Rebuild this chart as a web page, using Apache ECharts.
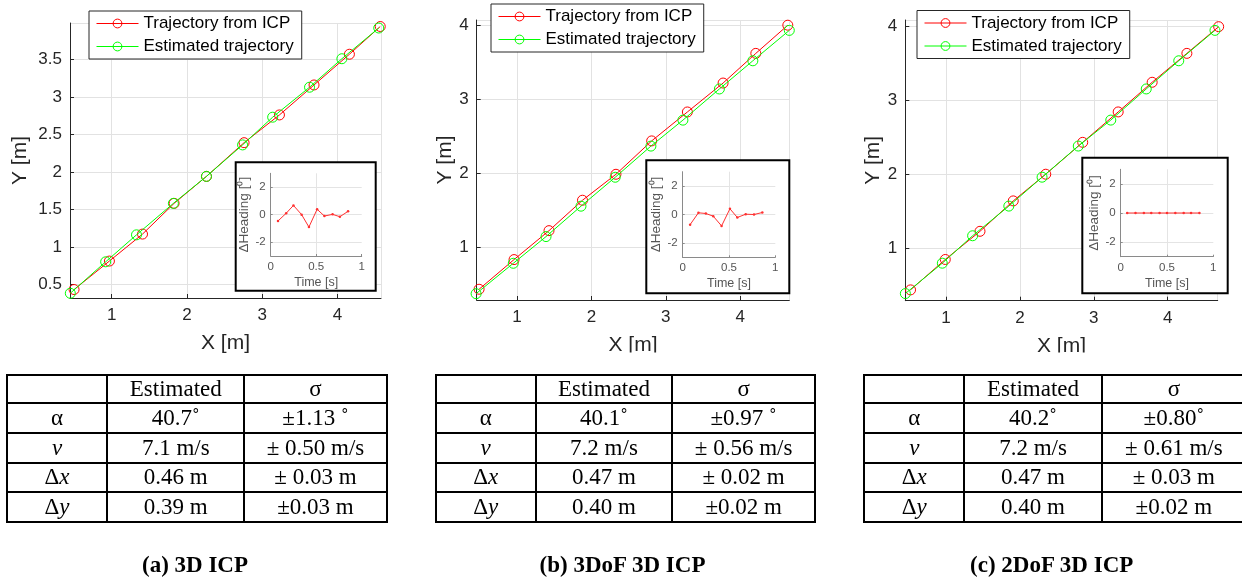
<!DOCTYPE html>
<html><head><meta charset="utf-8">
<script src="https://cdn.jsdelivr.net/npm/echarts@6/dist/echarts.min.js"></script>
<style>
html,body{margin:0;padding:0;background:#fff;width:1242px;height:581px;overflow:hidden;}
#chart{position:absolute;left:0;top:0;width:1242px;height:581px;}
.cell{position:absolute;box-sizing:border-box;border:2px solid #000;display:flex;align-items:center;justify-content:center;font-family:"Liberation Serif","Times New Roman",serif;font-size:23px;color:#000;white-space:pre;background:transparent;}
.cap{position:absolute;font-family:"Liberation Serif","Times New Roman",serif;font-weight:bold;font-size:23px;transform:translate(-50%,-50%);white-space:nowrap;color:#000;}
</style></head><body>
<div id="chart"></div>
<div id="tables"></div>
<script>
// ---------- DATA ----------
const seriesNames = ['Trajectory from ICP', 'Estimated trajectory'];
// panel (a) 3D ICP
const icpXa = [0.50, 0.97, 1.41, 1.83, 2.26, 2.76, 3.23, 3.69, 4.16, 4.57];
const icpYa = [0.43, 0.81, 1.17, 1.58, 1.94, 2.39, 2.76, 3.16, 3.57, 3.94];
const estXa = [0.45, 0.92, 1.33, 1.82, 2.26, 2.74, 3.14, 3.63, 4.06, 4.55];
const estYa = [0.38, 0.80, 1.16, 1.58, 1.94, 2.36, 2.73, 3.13, 3.51, 3.92];
// panel (b) 3DoF 3D ICP
const icpXb = [0.49, 0.96, 1.43, 1.88, 2.33, 2.81, 3.29, 3.77, 4.21, 4.64];
const icpYb = [0.44, 0.84, 1.23, 1.64, 1.99, 2.44, 2.83, 3.22, 3.62, 4.00];
const estXb = [0.45, 0.95, 1.39, 1.86, 2.32, 2.80, 3.23, 3.72, 4.17, 4.66];
const estYb = [0.38, 0.79, 1.15, 1.56, 1.95, 2.37, 2.72, 3.14, 3.52, 3.93];
// panel (c) 2DoF 3D ICP
const icpXc = [0.52, 0.99, 1.46, 1.91, 2.35, 2.85, 3.33, 3.79, 4.26, 4.69];
const icpYc = [0.44, 0.85, 1.23, 1.64, 2.00, 2.43, 2.84, 3.24, 3.63, 3.99];
const estXc = [0.45, 0.95, 1.36, 1.85, 2.30, 2.79, 3.23, 3.71, 4.15, 4.64];
const estYc = [0.39, 0.80, 1.17, 1.57, 1.96, 2.38, 2.73, 3.15, 3.53, 3.94];
// inset: heading error vs time
const timeA = [0.08, 0.17, 0.25, 0.34, 0.42, 0.51, 0.59, 0.68, 0.76, 0.85];
const headA = [-0.46, 0.10, 0.67, 0.00, -0.90, 0.39, -0.10, 0.02, -0.15, 0.24];
const timeB = [0.08, 0.17, 0.25, 0.33, 0.42, 0.51, 0.59, 0.68, 0.77, 0.86];
const headB = [-0.71, 0.12, 0.07, -0.12, -0.80, 0.40, -0.21, 0.02, 0.00, 0.14];
const timeC = [0.07, 0.16, 0.25, 0.33, 0.42, 0.50, 0.59, 0.68, 0.76, 0.85];
const headC = [0, 0, 0, 0, 0, 0, 0, 0, 0, 0];
// tables
const rowLabels = ['α', '<i>v</i>', 'Δ<i>x</i>', 'Δ<i>y</i>'];
const tableHeader = ['', 'Estimated', 'σ'];
const estA = ['40.7˚', '7.1 m/s', '0.46 m', '0.39 m'];
const sigA = ['±1.13 ˚', '± 0.50 m/s', '± 0.03 m', '±0.03 m'];
const estB = ['40.1˚', '7.2 m/s', '0.47 m', '0.40 m'];
const sigB = ['±0.97 ˚', '± 0.56 m/s', '± 0.02 m', '±0.02 m'];
const estC = ['40.2˚', '7.2 m/s', '0.47 m', '0.40 m'];
const sigC = ['±0.80˚', '± 0.61 m/s', '± 0.03 m', '±0.02 m'];
const captions = ['(a) 3D ICP', '(b) 3DoF 3D ICP', '(c) 2DoF 3D ICP'];

// ---------- LAYOUT ----------
const zip = (a, b) => a.map((v, i) => [v, b[i]]);
const panels = [
  { icp: zip(icpXa, icpYa), est: zip(estXa, estYa), head: zip(timeA, headA),
    grid: {left: 70, top: 23, width: 311, height: 275}, xr: [0.446, 4.58], yr: [0.317, 3.987], ySplit: 7, yGap: 39,
    legend: {left: 89, top: 11}, box: [235.7, 162.3, 140, 128.4], inset: {left: 270.7, top: 173.3, width: 91, height: 82.7},
    cols: [6.7, 107.3, 244.3, 386.7], est2: estA, sig: sigA, capX: 195 },
  { icp: zip(icpXb, icpYb), est: zip(estXb, estYb), head: zip(timeB, headB),
    grid: {left: 476.7, top: 20, width: 312.6, height: 280}, xr: [0.458, 4.66], yr: [0.295, 4.07], ySplit: 4, yGap: 21,
    legend: {left: 491, top: 4}, box: [646.3, 160.3, 143, 133], inset: {left: 682.7, top: 171.7, width: 92.6, height: 85.6},
    cols: [435.7, 535.7, 672.3, 815], est2: estB, sig: sigB, capX: 622.5 },
  { icp: zip(icpXc, icpYc), est: zip(estXc, estYc), head: zip(timeC, headC),
    grid: {left: 905.3, top: 20, width: 312.4, height: 280.7}, xr: [0.449, 4.677], yr: [0.294, 4.08], ySplit: 4, yGap: 20,
    legend: {left: 917, top: 10.5}, box: [1082.3, 157.7, 145.4, 135.6], inset: {left: 1120.7, top: 169.3, width: 92.6, height: 87.4},
    cols: [864.3, 964.3, 1101.7, 1246], est2: estC, sig: sigC, capX: 1051.7 }
];
const rowsY = [375, 402.7, 432.7, 462.7, 492.3, 522.3];
const SANS = '"Liberation Sans", Arial, Helvetica, sans-serif';
const AX = '#262626';
const RED = '#ff0000', GREEN = '#00ff00';

const grids = [], xAxes = [], yAxes = [], series = [], legends = [], graphics = [];
panels.forEach((p, i) => {
  grids.push(Object.assign({outerBoundsMode: 'none', containLabel: false}, p.grid));
  xAxes.push({type: 'value', gridIndex: i, min: p.xr[0], max: p.xr[1], splitNumber: 4,
    name: 'X [m]', nameLocation: 'middle', nameGap: 35,
    nameTextStyle: {fontSize: 21, color: AX, fontFamily: SANS},
    axisLine: {show: true, onZero: false, lineStyle: {color: AX, width: 1}},
    axisTick: {show: true, inside: true, length: 4, lineStyle: {color: AX}},
    axisLabel: {fontSize: 17, color: AX, fontFamily: SANS, margin: 9, showMinLabel: false, showMaxLabel: false},
    splitLine: {show: true, lineStyle: {color: '#e2e2e2', width: 1}}});
  yAxes.push({type: 'value', gridIndex: i, min: p.yr[0], max: p.yr[1], splitNumber: p.ySplit,
    name: 'Y [m]', nameLocation: 'middle', nameGap: p.yGap,
    nameTextStyle: {fontSize: 21, color: AX, fontFamily: SANS},
    axisLine: {show: true, onZero: false, lineStyle: {color: AX, width: 1}},
    axisTick: {show: true, inside: true, length: 4, lineStyle: {color: AX}},
    axisLabel: {fontSize: 17, color: AX, fontFamily: SANS, margin: 8, showMinLabel: false, showMaxLabel: false},
    splitLine: {show: true, lineStyle: {color: '#e2e2e2', width: 1}}});
  [[p.icp, RED], [p.est, GREEN]].forEach(([d, c], k) => {
    series.push({type: 'line', name: seriesNames[k], xAxisIndex: i, yAxisIndex: i, data: d, clip: false,
      symbol: 'circle', symbolSize: 10, showAllSymbol: true, z: 2 + k,
      lineStyle: {color: c, width: 1}, itemStyle: {color: 'rgba(0,0,0,0)', borderColor: c, borderWidth: 1},
      emphasis: {disabled: true}});
  });
  legends.push({show: true, orient: 'vertical', left: p.legend.left, top: p.legend.top, data: seriesNames,
    padding: [4, 8, 4, 7], itemGap: 6, itemWidth: 42, itemHeight: 11,
    itemStyle: {borderWidth: 1}, lineStyle: {width: 1},
    backgroundColor: '#fff', borderColor: AX, borderWidth: 1, borderRadius: 0,
    textStyle: {fontSize: 17, color: '#000', fontFamily: SANS}, selectedMode: false, z: 6});
  graphics.push({type: 'rect', z: 5, shape: {x: p.box[0], y: p.box[1], width: p.box[2], height: p.box[3]},
    style: {fill: '#fff', stroke: '#000', lineWidth: 2}});
});
// inset grids/axes
panels.forEach((p, i) => {
  const gi = 3 + i;
  grids.push(Object.assign({outerBoundsMode: 'none', containLabel: false, z: 8}, p.inset));
  xAxes.push({type: 'value', gridIndex: gi, min: 0, max: 1, interval: 0.5, z: 10,
    name: 'Time [s]', nameLocation: 'middle', nameGap: 20,
    nameTextStyle: {fontSize: 12.5, color: '#555', fontFamily: SANS},
    axisLine: {show: true, onZero: false, lineStyle: {color: '#8a8a8a', width: 1}},
    axisTick: {show: true, inside: true, length: 2, lineStyle: {color: '#8a8a8a'}},
    axisLabel: {fontSize: 11.5, color: '#555', fontFamily: SANS, margin: 5},
    splitLine: {show: true, lineStyle: {color: ['#e4e4e4', '#e4e4e4', 'rgba(0,0,0,0)'], width: 1}}});
  yAxes.push({type: 'value', gridIndex: gi, min: -3, max: 3, splitNumber: 3, z: 10,
    name: 'ΔHeading [⁰]', nameLocation: 'middle', nameGap: 17,
    nameTextStyle: {fontSize: 13.5, color: '#555', fontFamily: SANS},
    axisLine: {show: true, onZero: false, lineStyle: {color: '#8a8a8a', width: 1}},
    axisTick: {show: true, inside: true, length: 2, lineStyle: {color: '#8a8a8a'}},
    axisLabel: {fontSize: 11.5, color: '#555', fontFamily: SANS, margin: 5, showMinLabel: false, showMaxLabel: false},
    splitLine: {show: true, lineStyle: {color: ['rgba(0,0,0,0)', '#e4e4e4', '#e4e4e4', '#e4e4e4', 'rgba(0,0,0,0)'], width: 1}}});
  series.push({type: 'line', xAxisIndex: gi, yAxisIndex: gi, data: p.head, z: 20,
    symbol: 'circle', symbolSize: 2.5, showAllSymbol: true,
    lineStyle: {color: '#ff3030', width: 1}, itemStyle: {color: '#ff3030'}, emphasis: {disabled: true}});
});
// clip of the axis titles in (b) and (c)
graphics.push({type: 'rect', z: 100, shape: {x: 420, y: 352.5, width: 822, height: 18}, style: {fill: '#fff'}});

const chart = echarts.init(document.getElementById('chart'), null, {renderer: 'canvas'});
chart.setOption({
  animation: false, backgroundColor: '#fff',
  grid: grids, xAxis: xAxes, yAxis: yAxes, series: series, legend: legends,
  graphic: {elements: graphics}
});

// ---------- TABLES ----------
const host = document.getElementById('tables');
function cell(x0, x1, y0, y1, html) {
  const d = document.createElement('div');
  d.className = 'cell';
  d.style.left = (x0 - 1) + 'px'; d.style.top = (y0 - 1) + 'px';
  d.style.width = (x1 - x0 + 2) + 'px'; d.style.height = (y1 - y0 + 2) + 'px';
  d.innerHTML = html;
  host.appendChild(d);
}
panels.forEach((p, i) => {
  const c = p.cols;
  tableHeader.forEach((h, j) => cell(c[j], c[j + 1], rowsY[0], rowsY[1], h));
  rowLabels.forEach((lab, r) => {
    cell(c[0], c[1], rowsY[r + 1], rowsY[r + 2], lab);
    cell(c[1], c[2], rowsY[r + 1], rowsY[r + 2], p.est2[r]);
    cell(c[2], c[3], rowsY[r + 1], rowsY[r + 2], p.sig[r]);
  });
  const cap = document.createElement('div');
  cap.className = 'cap';
  cap.style.left = p.capX + 'px'; cap.style.top = '565px';
  cap.textContent = captions[i];
  host.appendChild(cap);
});
</script>
</body></html>
